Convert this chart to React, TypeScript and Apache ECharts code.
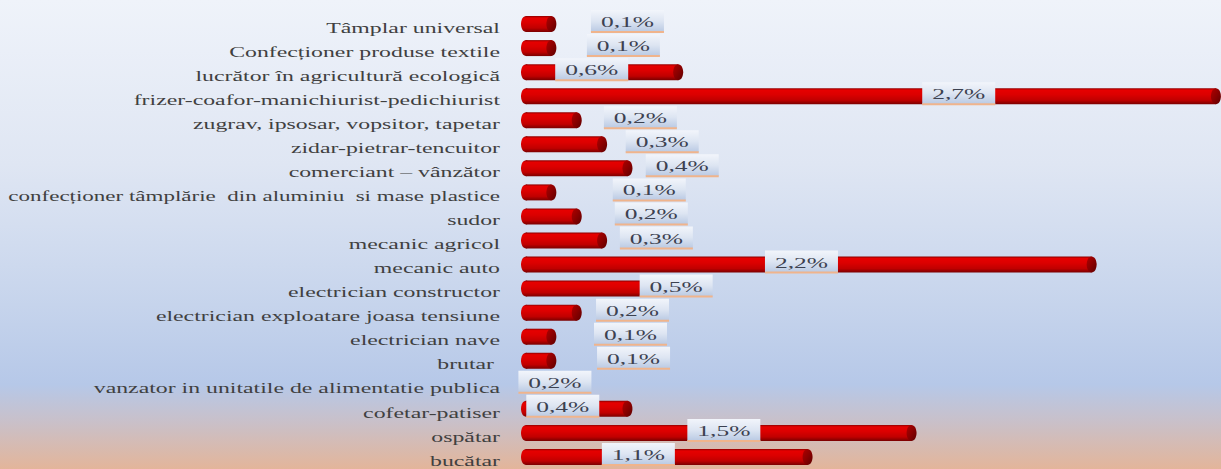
import React, { useEffect, useRef } from "react";
import * as echarts from "echarts";

const CATEGORIES = [
  "Tâmplar universal",
  "Confecționer produse textile",
  "lucrător în agricultură ecologică",
  "frizer-coafor-manichiurist-pedichiurist",
  "zugrav, ipsosar, vopsitor, tapetar",
  "zidar-pietrar-tencuitor",
  "comerciant – vânzător",
  "confecționer tâmplărie  din aluminiu  si mase plastice",
  "sudor",
  "mecanic agricol",
  "mecanic auto",
  "electrician constructor",
  "electrician exploatare joasa tensiune",
  "electrician nave",
  "brutar ",
  "vanzator in unitatile de alimentatie publica",
  "cofetar-patiser",
  "ospătar",
  "bucătar",
];

const VALUES = [0.1, 0.1, 0.6, 2.72, 0.2, 0.3, 0.4, 0.1, 0.2, 0.3, 2.23, 0.5, 0.2, 0.1, 0.1, 0.2, 0.4, 1.52, 1.11];

const LABELS = ["0,1%", "0,1%", "0,6%", "2,7%", "0,2%", "0,3%", "0,4%", "0,1%", "0,2%", "0,3%", "2,2%", "0,5%", "0,2%", "0,1%", "0,1%", "0,2%", "0,4%", "1,5%", "1,1%"];

// where each data label box sits along the value axis (in %)
const LABEL_AT = [0.4, 0.384, 0.259, 1.706, 0.451, 0.537, 0.616, 0.486, 0.494, 0.514, 1.086, 0.592, 0.42, 0.412, 0.424, 0.114, 0.145, 0.78, 0.443];

const STRETCH = 1.7;
const SERIF = "'Liberation Serif', 'Times New Roman', Times, serif";

function measure(text: string, size: number): number {
  const c = document.createElement("canvas");
  const ctx = c.getContext("2d");
  if (!ctx) return text.length * size * 0.45;
  ctx.font = `${size}px ${SERIF}`;
  return ctx.measureText(text).width;
}

export default function App() {
  const ref = useRef<HTMLDivElement>(null);
  useEffect(() => {
    document.body.style.margin = "0";
    const chart = echarts.init(ref.current!, null, { renderer: "svg" });
    const data = VALUES.map((v, i) => [v, i, LABEL_AT[i]]);
    const catScale = CATEGORIES.map((c) => {
      const w = measure(c, 14);
      return Math.min(STRETCH, 492 / Math.max(w, 1));
    });
    const barGrad = () =>
      new echarts.graphic.LinearGradient(0, 0, 0, 1, [
        { offset: 0, color: "#8e0000" },
        { offset: 0.12, color: "#e60000" },
        { offset: 0.4, color: "#dc0000" },
        { offset: 0.75, color: "#c00000" },
        { offset: 1, color: "#7a0000" },
      ]);
    const capGrad = () =>
      new echarts.graphic.LinearGradient(0, 0, 1, 1, [
        { offset: 0, color: "#b00000" },
        { offset: 0.5, color: "#8a0000" },
        { offset: 1, color: "#5e0000" },
      ]);
    const boxGrad = () =>
      new echarts.graphic.LinearGradient(0, 0, 0, 1, [
        { offset: 0, color: "#f2f5fb" },
        { offset: 0.5, color: "#dde5f2" },
        { offset: 1, color: "#b9c9e3" },
      ]);
    chart.setOption({
      animation: false,
      backgroundColor: {
        type: "linear",
        x: 0,
        y: 0,
        x2: 0,
        y2: 1,
        colorStops: [
          { offset: 0, color: "#eff3fa" },
          { offset: 0.35, color: "#dfe6f3" },
          { offset: 0.65, color: "#c6d4ec" },
          { offset: 0.82, color: "#b6c8e8" },
          { offset: 0.9, color: "#c9c0c9" },
          { offset: 1, color: "#e3b59a" },
        ],
      },
      grid: { left: 526, top: 12, width: 699, height: 459 },
      xAxis: { type: "value", min: 0, max: 2.74, show: false },
      yAxis: {
        type: "category",
        inverse: true,
        data: CATEGORIES,
        axisLine: { show: false },
        axisTick: { show: false },
        axisLabel: { show: false },
        splitLine: { show: false },
      },
      series: [
        {
          type: "custom",
          clip: false,
          data,
          encode: { x: 0, y: 1 },
          renderItem: (params: any, api: any) => {
            const v = api.value(0);
            const idx = api.value(1);
            const at = api.value(2);
            const p0 = api.coord([0, idx]);
            const p1 = api.coord([v, idx]);
            const pl = api.coord([at, idx]);
            const h = 16;
            const cy = p0[1];
            const y = cy - h / 2;
            const rx = 5;
            const bw = 73;
            const bh = 22;
            const by = cy - 3 - bh / 2;
            return {
              type: "group",
              children: [
                {
                  type: "text",
                  x: p0[0] - 26,
                  y: cy + 4,
                  scaleX: catScale[idx],
                  style: {
                    text: CATEGORIES[idx],
                    x: 0,
                    y: 0,
                    align: "right",
                    verticalAlign: "middle",
                    fontFamily: SERIF,
                    fontSize: 14,
                    fill: "#404040",
                  },
                },
                {
                  type: "ellipse",
                  shape: { cx: p0[0], cy, rx, ry: h / 2 },
                  style: { fill: barGrad() },
                },
                {
                  type: "rect",
                  shape: { x: p0[0], y, width: p1[0] - p0[0], height: h },
                  style: { fill: barGrad() },
                },
                {
                  type: "ellipse",
                  shape: { cx: p1[0], cy, rx, ry: h / 2 },
                  style: { fill: capGrad() },
                },
                {
                  type: "rect",
                  shape: { x: pl[0] - bw / 2, y: by, width: bw, height: bh },
                  style: { fill: boxGrad() },
                },
                {
                  type: "line",
                  shape: { x1: pl[0] - bw / 2, y1: by + bh, x2: pl[0] + bw / 2, y2: by + bh },
                  style: { stroke: "#f0b48c", lineWidth: 2 },
                },
                {
                  type: "text",
                  x: pl[0],
                  y: by + bh / 2 + 1,
                  scaleX: STRETCH,
                  style: {
                    text: LABELS[idx],
                    x: 0,
                    y: 0,
                    align: "center",
                    verticalAlign: "middle",
                    fontFamily: SERIF,
                    fontSize: 15,
                    fill: "#3c4150",
                  },
                },
              ],
            };
          },
        },
      ],
    });
    return () => chart.dispose();
  }, []);
  return <div ref={ref} style={{ width: 1221, height: 469 }} />;
}
